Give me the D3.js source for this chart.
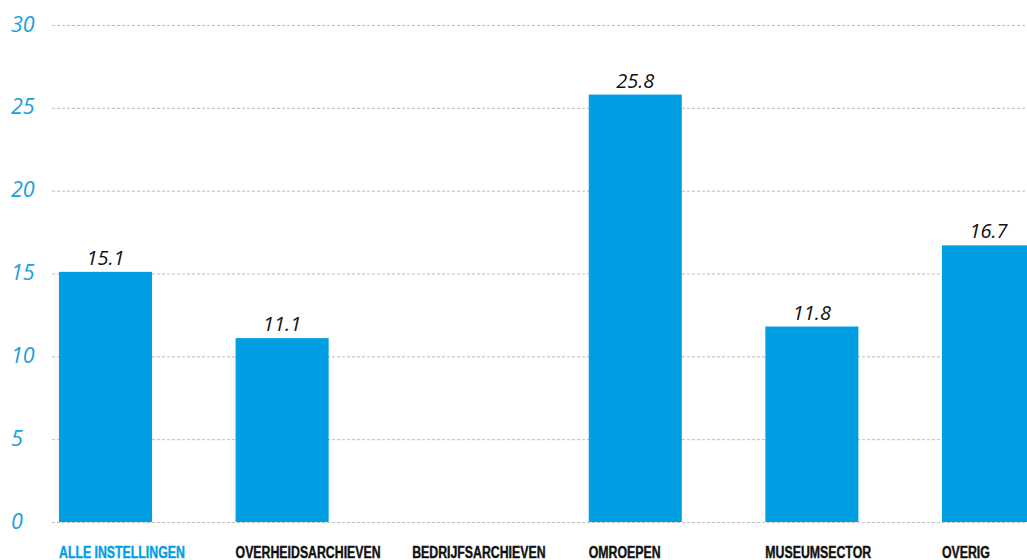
<!DOCTYPE html>
<html><head><meta charset="utf-8">
<script src="https://cdn.jsdelivr.net/npm/d3@7"></script>
<style>
html,body{margin:0;padding:0;background:#fff;overflow:hidden}
svg{display:block}
</style></head>
<body>
<svg id="chart" width="1027" height="560"></svg>
<script>
const categories = ["ALLE INSTELLINGEN","OVERHEIDSARCHIEVEN","BEDRIJFSARCHIEVEN","OMROEPEN","MUSEUMSECTOR","OVERIG"];
const values = [15.1, 11.1, null, 25.8, 11.8, 16.7];
const yTicks = [0,5,10,15,20,25,30];

const W = 1027, H = 560;
const svg = d3.select("#chart");
const blue = "#009fe3";

const y = d3.scaleLinear().domain([0,30]).range([522,25]);
const x = d3.scaleBand().domain(categories).range([59, 1035]).paddingInner(0.473).paddingOuter(0).align(0);

// grid
svg.append("g").selectAll("line").data(yTicks).join("line")
  .attr("x1",52).attr("x2",W)
  .attr("y1",d=>y(d)+0.5).attr("y2",d=>y(d)+0.5)
  .attr("stroke","#bdbdbd").attr("stroke-width",1).attr("stroke-dasharray","3,2");

// y labels
svg.append("g").selectAll("text").data(yTicks).join("text")
  .attr("x",11).attr("y",d=>y(d)+6.5)
  .attr("font-family","'Open Sans', sans-serif").attr("font-style","italic")
  .attr("font-size",21.5).attr("fill","#1a9fe0")
  .text(d=>d);

const data = categories.map((c,i)=>({c, v: values[i]})).filter(d=>d.v!=null);

svg.append("g").selectAll("rect").data(data).join("rect")
  .attr("x",d=>x(d.c)).attr("width",x.bandwidth())
  .attr("y",d=>y(d.v)).attr("height",d=>y(0)-y(d.v))
  .attr("fill",blue);

svg.append("g").selectAll("text").data(data).join("text")
  .attr("x",d=>Math.min(x(d.c)+x.bandwidth()/2, 1002)).attr("y",d=>y(d.v)-7)
  .attr("text-anchor","middle")
  .attr("font-family","'Open Sans', sans-serif").attr("font-style","italic")
  .attr("font-size",20).attr("fill","#111")
  .text(d=>d.v.toFixed(1));

// category labels (condensed)
const sx = 0.77;
svg.append("g").selectAll("text").data(categories).join("text")
  .attr("transform",d=>`translate(${x(d)},557.5) scale(${sx},1)`)
  .attr("font-family","'Liberation Sans', Arial, sans-serif").attr("font-weight","bold")
  .attr("font-size",16).attr("fill",(d,i)=>i===0?blue:"#111")
  .attr("stroke",(d,i)=>i===0?blue:"#111").attr("stroke-width",0.4)
  .text(d=>d);
</script>
</body></html>
